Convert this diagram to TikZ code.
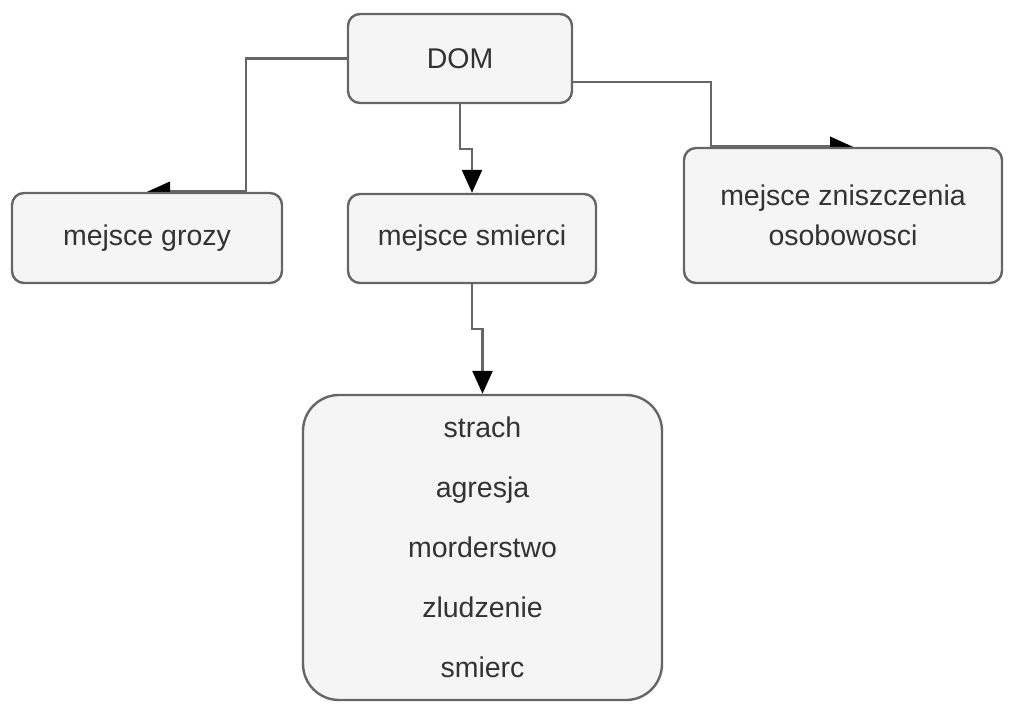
\documentclass[tikz,border=0pt]{standalone}
\usepackage{fontspec}
\setmainfont{Liberation Sans}
\usepackage{tikz}
\usetikzlibrary{arrows.meta, backgrounds}
\definecolor{boxfill}{HTML}{F5F5F5}
\definecolor{boxline}{HTML}{666666}
\definecolor{boxtext}{HTML}{333333}
\tikzstyle{place} = [rectangle, rounded corners=12pt, line width=2.4pt, draw=boxline, fill=boxfill, text=boxtext, align=center, font=\fontsize{28.5}{40}\selectfont, inner sep=0pt]
\tikzstyle{feelings} = [place, rounded corners=36pt, font=\fontsize{28.5}{60}\selectfont]
\tikzstyle{arrow} = [line width=2.6pt, draw=boxline, -{Triangle[length=23pt,width=20pt,black]}]

\begin{document}
\begin{tikzpicture}[x=1pt, y=1pt]
	\useasboundingbox (0,0) rectangle (1011,707);

	\node(dom) [place, minimum width=224pt, minimum height=89pt] at (460,648.5) {DOM};
	\node(grozy) [place, minimum width=270pt, minimum height=90pt] at (147,469) {mejsce grozy};
	\node(smierci) [place, minimum width=248pt, minimum height=89pt] at (472,468.5) {mejsce smierci};
	\node(osob) [place, minimum width=318pt, minimum height=135pt] at (843,491.5) {mejsce zniszczenia\\osobowosci};
	\node(feel) [feelings, minimum width=359pt, minimum height=305pt] at (482.5,159.5) {strach\\agresja\\morderstwo\\zludzenie\\smierc};

	\begin{scope}[on background layer]
	\draw[arrow] (dom.west) -| ([xshift=99pt]grozy.north) -- (grozy.north);
	\draw[arrow] ([yshift=-23.5pt]dom.east) -| ([xshift=-132pt]osob.north) -- ([xshift=10pt]osob.north);
	\draw[arrow] (dom.south) -- ++(0,-45) -| (smierci.north);
	\draw[arrow] (smierci.south) -- ++(0,-45) -| (feel.north);
	\end{scope}
\end{tikzpicture}
\end{document}
